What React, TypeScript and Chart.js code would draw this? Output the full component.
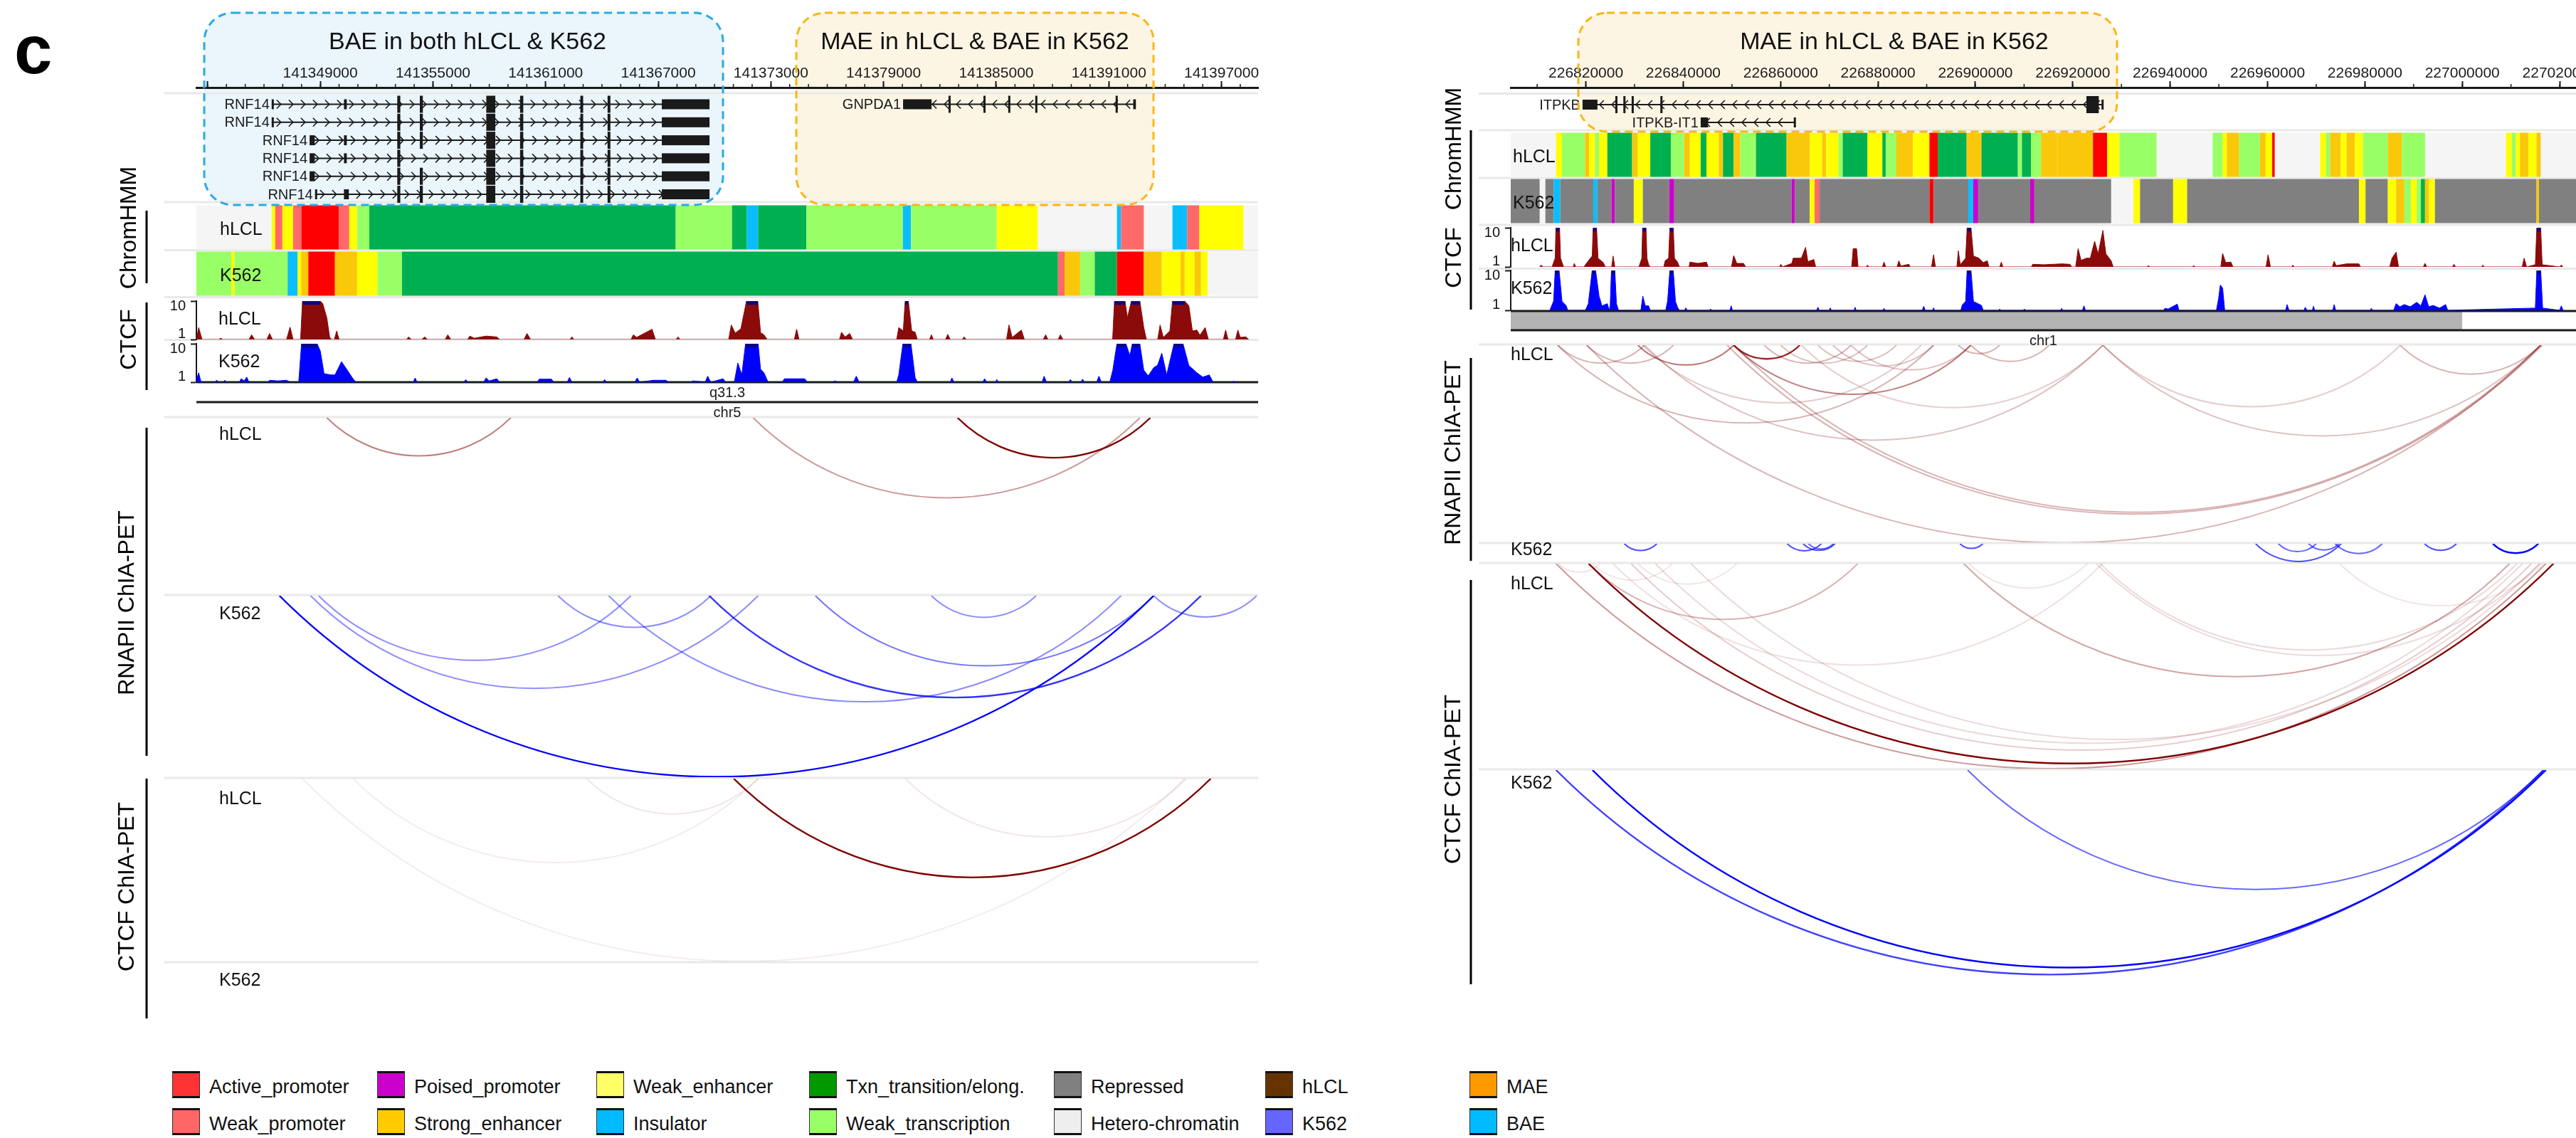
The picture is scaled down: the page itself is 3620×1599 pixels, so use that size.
import React, { useEffect, useRef } from 'react';
import { Chart, registerables } from 'chart.js';
Chart.register(...registerables);

const FONT = '"Liberation Sans", Arial, Helvetica, sans-serif';
const INK = '#1a1a1a';

// ================= DATA =================
const L_RANGE = [141342400, 141398950];
const R_RANGE = [226804570, 227023350];

const L_TICKS = [141343000, 141349000, 141355000, 141361000, 141367000, 141373000, 141379000, 141385000, 141391000, 141397000];
const L_TICK_LABELS = ['', '141349000', '141355000', '141361000', '141367000', '141373000', '141379000', '141385000', '141391000', '141397000'];
const L_MINOR_STEP = 1000;
const R_TICKS = [226820000, 226840000, 226860000, 226880000, 226900000, 226920000, 226940000, 226960000, 226980000, 227000000, 227020000];
const R_TICK_LABELS = ['226820000', '226840000', '226860000', '226880000', '226900000', '226920000', '226940000', '226960000', '226980000', '227000000', '227020000'];
const R_MINOR_STEP = 10000;

const CTCF_Y_TICKS = [1, 10];
const CTCF_Y_LABELS = ['1', '10'];

const HMM_ROWS = ['hLCL', 'K562'];

const STATE_COLORS: any = {
  AP: '#ff0000', WP: '#ff6969', PP: '#cc00cc', SE: '#fac80a', WE: '#ffff00',
  INS: '#0abefe', TXN: '#00b050', WT: '#99ff66', REP: '#808080', HET: '#f5f5f5',
};

const L_HMM_HLCL: any[] = [
  [141346410, 141346600, 'WE'], [141346600, 141346980, 'WP'], [141346980, 141347550, 'WE'], [141347550, 141347990, 'WP'],
  [141347990, 141349990, 'AP'], [141349990, 141350540, 'WP'], [141350540, 141350960, 'WE'], [141350960, 141351610, 'WT'],
  [141351610, 141367930, 'TXN'], [141367930, 141370930, 'WT'], [141370930, 141371720, 'TXN'], [141371720, 141372320, 'INS'],
  [141372320, 141374890, 'TXN'], [141374890, 141380030, 'WT'], [141380030, 141380460, 'INS'], [141380460, 141385030, 'WT'],
  [141385030, 141387210, 'WE'], [141391430, 141391650, 'INS'], [141391650, 141392860, 'WP'], [141394390, 141395170, 'INS'],
  [141395170, 141395820, 'WP'], [141395820, 141398170, 'WE'],
];
const L_HMM_K562: any[] = [
  [141342400, 141344260, 'WT'], [141344260, 141344430, 'WE'], [141344430, 141347260, 'WT'], [141347260, 141347790, 'INS'],
  [141347790, 141347980, 'WE'], [141347980, 141348360, 'SE'], [141348360, 141349780, 'AP'], [141349780, 141350960, 'SE'],
  [141350960, 141352050, 'WE'], [141352050, 141353350, 'WT'], [141353350, 141388290, 'TXN'], [141388290, 141388640, 'WP'],
  [141388640, 141389470, 'SE'], [141389470, 141390250, 'WT'], [141390250, 141391430, 'TXN'], [141391430, 141392860, 'AP'],
  [141392860, 141393820, 'SE'], [141393820, 141394820, 'WE'], [141394820, 141395040, 'SE'], [141395040, 141395560, 'WE'],
  [141395560, 141395910, 'SE'], [141395910, 141396260, 'WE'],
];
const R_HMM_HLCL: any[] = [
  [226813890, 226815080, 'WE'], [226815080, 226819830, 'WT'], [226819830, 226820680, 'SE'], [226820680, 226821870, 'WE'],
  [226821870, 226822710, 'WT'], [226822710, 226824410, 'WE'], [226824410, 226829500, 'TXN'], [226829500, 226830690, 'SE'],
  [226830690, 226833230, 'WE'], [226833230, 226837470, 'TXN'], [226837470, 226840190, 'WT'], [226840190, 226841370, 'SE'],
  [226841370, 226843580, 'WE'], [226843580, 226844770, 'TXN'], [226844770, 226847310, 'WE'], [226847310, 226848160, 'SE'],
  [226848160, 226850360, 'TXN'], [226850360, 226851720, 'SE'], [226851720, 226854940, 'WT'], [226854940, 226861220, 'TXN'],
  [226861220, 226865970, 'SE'], [226865970, 226868510, 'WE'], [226868510, 226869360, 'SE'], [226869360, 226871910, 'WE'],
  [226871910, 226872750, 'WT'], [226872750, 226877840, 'TXN'], [226877840, 226880900, 'WE'], [226880900, 226881580, 'TXN'],
  [226881580, 226883780, 'WT'], [226883780, 226887170, 'SE'], [226887170, 226890570, 'WE'], [226890570, 226892260, 'AP'],
  [226892260, 226898200, 'TXN'], [226898200, 226901250, 'SE'], [226901250, 226908720, 'TXN'], [226908720, 226909560, 'WT'],
  [226909560, 226911430, 'TXN'], [226911430, 226913470, 'WT'], [226913470, 226916860, 'SE'], [226916860, 226924150, 'SE'],
  [226924150, 226927040, 'AP'], [226927040, 226929580, 'WE'], [226929580, 226937210, 'WT'], [226948750, 226950780, 'WT'],
  [226950780, 226951630, 'WE'], [226951630, 226954180, 'SE'], [226954180, 226958420, 'WT'], [226958420, 226959610, 'SE'],
  [226959610, 226960960, 'WE'], [226960960, 226961470, 'AP'], [226970800, 226971990, 'WE'], [226971990, 226972840, 'WT'],
  [226972840, 226975040, 'SE'], [226975040, 226976230, 'WE'], [226976230, 226977930, 'SE'], [226977930, 226979620, 'WE'],
  [226979620, 226984710, 'WT'], [226984710, 226987590, 'SE'], [226987590, 226992340, 'WT'], [227008970, 227010160, 'WE'],
  [227010160, 227011000, 'WT'], [227011000, 227011850, 'WE'], [227011850, 227013550, 'SE'], [227013550, 227015240, 'WE'],
  [227015240, 227016090, 'SE'],
];
const R_HMM_K562: any[] = [
  [226804570, 226810500, 'REP'], [226811690, 226813380, 'REP'], [226813380, 226814740, 'INS'], [226814740, 226821530, 'REP'],
  [226821530, 226822370, 'INS'], [226822370, 226825260, 'REP'], [226825260, 226825940, 'PP'], [226825940, 226829840, 'REP'],
  [226829840, 226831700, 'WE'], [226831700, 226837130, 'REP'], [226837130, 226838150, 'PP'], [226838150, 226862240, 'REP'],
  [226862240, 226862920, 'PP'], [226862920, 226865970, 'REP'], [226865970, 226866990, 'WE'], [226866990, 226868010, 'WP'],
  [226868010, 226890570, 'REP'], [226890570, 226891410, 'AP'], [226891410, 226898540, 'REP'], [226898540, 226899560, 'INS'],
  [226899560, 226900570, 'PP'], [226900570, 226911260, 'REP'], [226911260, 226912110, 'PP'], [226912110, 226927880, 'REP'],
  [226932460, 226933820, 'WE'], [226933820, 226940610, 'REP'], [226940610, 226943490, 'WE'], [226943490, 226978770, 'REP'],
  [226978770, 226980130, 'WE'], [226980130, 226984710, 'REP'], [226984710, 226986410, 'WE'], [226986410, 226988100, 'SE'],
  [226988100, 226989460, 'WT'], [226989460, 226990650, 'WE'], [226990650, 226991500, 'WT'], [226991500, 226992340, 'TXN'],
  [226992340, 226993190, 'SE'], [226993190, 226994380, 'WE'], [226994380, 227015240, 'REP'], [227015240, 227015750, 'SE'],
  [227015750, 227023350, 'REP'],
];

// CTCF signal [position, value]
const L_CTCF_HLCL: number[][] = [
  [141342400, 1], [141342520, 3.8], [141342700, 1], [141343600, 1], [141343690, 1.3], [141343800, 1],
  [141345200, 1], [141345340, 2.1], [141345500, 1], [141346150, 1], [141346300, 2.4], [141346450, 1],
  [141347200, 1], [141347390, 3.9], [141347550, 1], [141347950, 1], [141348050, 10], [141349000, 10], [141349130, 9.4], [141349350, 6], [141349500, 1.5], [141349600, 1],
  [141349750, 1], [141349870, 3], [141350000, 1], [141353600, 1], [141353700, 1.6], [141353850, 1], [141354400, 1], [141354570, 1.6], [141354700, 1],
  [141355650, 1], [141355790, 2.1], [141355950, 1], [141356850, 1], [141356960, 1.8], [141357200, 1.3], [141357830, 1.8], [141358400, 1.6], [141358550, 1],
  [141359850, 1], [141360010, 2.4], [141360200, 1], [141362300, 1], [141362400, 1.6], [141362500, 1],
  [141365550, 1], [141365670, 2.1], [141365850, 1.5], [141366670, 3.4], [141366850, 1], [141367950, 1], [141368060, 1.6], [141368150, 1],
  [141370750, 1], [141370890, 4.4], [141371100, 2.5], [141371400, 3.5], [141371700, 10], [141372300, 10], [141372450, 2.6], [141372630, 2.1], [141372800, 1],
  [141374250, 1], [141374370, 3.4], [141374500, 1], [141376650, 1], [141376760, 2.7], [141376950, 1.6], [141377200, 2.4], [141377350, 1],
  [141379700, 1], [141379810, 3.8], [141380050, 3], [141380150, 10], [141380320, 10], [141380500, 3], [141380680, 2.7], [141380800, 1],
  [141381450, 1], [141381550, 2.1], [141381650, 1], [141382300, 1], [141382420, 2.2], [141382550, 1], [141383200, 1], [141383290, 1.6], [141383400, 1],
  [141385550, 1], [141385680, 4.4], [141385850, 1.5], [141386340, 3.2], [141386500, 1], [141387500, 1], [141387640, 2.1], [141387750, 1],
  [141388300, 1], [141388420, 2.1], [141388550, 1],
  [141391200, 1], [141391300, 10], [141391860, 10], [141391990, 6.1], [141392200, 10], [141392650, 10], [141392860, 3.8], [141393000, 1],
  [141393600, 1], [141393730, 4.4], [141393900, 1.5], [141394250, 3], [141394390, 10], [141395040, 10], [141395260, 8.9], [141395450, 3], [141395690, 3.2], [141395850, 2], [141396130, 3.8], [141396300, 1],
  [141397100, 1], [141397220, 3.2], [141397350, 1], [141397750, 1], [141397870, 3.2], [141398000, 1.5], [141398300, 1.6], [141398450, 1],
];
const L_CTCF_HLCL_CLIP = [[141348050, 141349000], [141371700, 141372300], [141380150, 141380320], [141391300, 141391860], [141392200, 141392650], [141394390, 141395040]];

const L_CTCF_K562: number[][] = [
  [141342400, 1.5], [141342520, 3.2], [141342650, 1], [141343400, 1], [141343470, 1.45], [141343600, 1], [141343850, 1], [141343910, 1.45], [141344000, 1],
  [141344700, 1], [141344780, 1.8], [141344950, 1.3], [141345080, 2.2], [141345200, 1], [141346200, 1], [141346300, 1.45], [141346740, 1.3], [141347200, 1.45], [141347400, 1],
  [141347850, 1], [141348000, 10], [141348830, 10], [141349000, 8.3], [141349200, 3], [141349560, 2.7], [141349780, 2.7], [141350130, 5.8], [141350440, 3.8], [141350740, 1.8], [141350900, 1],
  [141353950, 1], [141354050, 2], [141354150, 1], [141356650, 1], [141356750, 1.6], [141356850, 1],
  [141357700, 1], [141357830, 2], [141358000, 1.3], [141358400, 1.8], [141358550, 1], [141360550, 1], [141360660, 1.7], [141361310, 1.7], [141361450, 1],
  [141362150, 1], [141362270, 2.1], [141362400, 1], [141364050, 1], [141364140, 1.6], [141364250, 1],
  [141365750, 1], [141365880, 2], [141366000, 1], [141366750, 1.45], [141367410, 1.45], [141367550, 1],
  [141368750, 1], [141368840, 1.3], [141369500, 1], [141369630, 2.4], [141369800, 1], [141370450, 1.8], [141370600, 1],
  [141371050, 1], [141371240, 5.5], [141371450, 2.7], [141371650, 10], [141372320, 10], [141372450, 4], [141372630, 3.2], [141372850, 1],
  [141373600, 1], [141373720, 1.8], [141374370, 1.8], [141374800, 1.8], [141374950, 1],
  [141376300, 1], [141376410, 1.3], [141376550, 1], [141377400, 1], [141377550, 2.4], [141377700, 1],
  [141379700, 1], [141379810, 2.7], [141380030, 10], [141380460, 10], [141380680, 2.1], [141380800, 1],
  [141382550, 1], [141382640, 2], [141382750, 1], [141384280, 1], [141384380, 1.8], [141384500, 1], [141384950, 1], [141385030, 1.6], [141385120, 1],
  [141387450, 1], [141387550, 2.4], [141387680, 1],
  [141388850, 1], [141388950, 1.6], [141389050, 1], [141389500, 1], [141389600, 1.7], [141389700, 1], [141390350, 1], [141390470, 2.4], [141390600, 1],
  [141391050, 1], [141391210, 3.8], [141391430, 10], [141391910, 10], [141392120, 7.2], [141392250, 10], [141392650, 10], [141392860, 3.8], [141393100, 2.5], [141393390, 4.4], [141393600, 5], [141393820, 7.8], [141394080, 2.7], [141394470, 10], [141394950, 10], [141395260, 4.9], [141395690, 3.2], [141396000, 2.2], [141396350, 2.7], [141396550, 1],
  [141397550, 1], [141397650, 1.2], [141397750, 1],
];
const L_CTCF_K562_CLIP = [[141348000, 141348830], [141371650, 141372320], [141380030, 141380460], [141391430, 141391910], [141392250, 141392650], [141394470, 141394950]];

const R_CTCF_HLCL: number[][] = [
  [226810500, 1], [226810840, 1.4], [226811200, 1],
  [226813050, 1], [226813700, 3], [226813850, 10], [226814600, 10], [226814800, 3], [226815420, 1],
  [226817400, 1], [226817630, 1.8], [226817900, 1],
  [226819600, 1], [226820510, 2.4], [226821300, 3.5], [226821500, 10], [226822200, 10], [226822500, 3], [226823560, 2], [226824000, 1],
  [226825300, 1], [226825600, 3.5], [226825950, 1],
  [226830900, 1], [226831500, 3], [226831650, 10], [226832350, 10], [226832550, 3], [226832890, 1.5], [226833200, 1],
  [226836000, 1], [226836280, 2.4], [226837000, 3], [226837250, 10], [226837950, 10], [226838200, 3], [226838830, 2.1], [226839200, 1],
  [226841200, 1], [226841370, 2.1], [226843000, 1.8], [226844770, 2.1], [226845100, 1],
  [226849900, 1], [226850360, 3.6], [226851000, 1.8], [226852400, 1.8], [226852800, 1],
  [226859800, 1], [226860030, 1.6], [226860400, 1], [226862300, 1.8], [226862580, 3], [226864270, 3], [226865120, 5.5], [226865600, 2.2], [226866820, 2.7], [226867200, 1],
  [226874600, 1], [226874900, 5.2], [226875600, 5.2], [226875900, 1],
  [226877600, 1], [226877840, 1.4], [226878100, 1], [226880900, 1], [226881240, 2.1], [226881600, 1], [226883900, 1], [226884290, 2.4], [226884700, 1.2], [226886330, 1.6], [226886600, 1],
  [226891000, 1], [226891410, 3.8], [226891800, 1],
  [226896200, 1], [226896500, 4.7], [226896900, 1.5], [226898000, 3], [226898300, 10], [226899100, 10], [226899600, 3.5], [226900740, 3], [226901600, 2], [226902440, 2.4], [226902800, 1],
  [226905000, 1], [226905320, 2.1], [226905650, 1],
  [226911500, 1], [226911770, 1.6], [226914000, 1.5], [226917710, 1.7], [226919400, 1.6], [226919800, 1],
  [226920600, 1], [226921100, 5.2], [226921700, 2.5], [226922800, 3], [226923600, 3], [226924490, 6.9], [226925200, 4], [226926190, 9.4], [226926800, 4], [226927880, 2.4], [226928300, 1],
  [226935300, 1], [226935520, 1.3], [226935800, 1], [226944600, 1], [226944850, 1.3], [226945100, 1],
  [226950400, 1], [226950780, 4.1], [226951400, 2], [226952480, 2.1], [226952900, 1],
  [226959700, 1], [226960110, 3.8], [226960600, 1], [226965000, 1], [226965200, 1.4], [226965450, 1],
  [226973300, 1], [226973680, 2.3], [226974100, 1.3], [226976230, 1.7], [226978770, 1.7], [226979100, 1],
  [226985100, 1], [226985560, 3], [226986410, 4.4], [226986900, 1], [226992000, 1], [226992340, 1.8], [226992700, 1],
  [226998000, 1], [226998280, 1.6], [226998600, 1], [227004000, 1], [227004220, 1.4], [227004500, 1],
  [227012300, 1], [227012700, 3], [227013200, 1], [227015000, 1.5], [227015300, 10], [227016100, 10], [227016400, 1.5], [227020000, 1], [227020330, 1.4], [227020700, 1],
];
const R_CTCF_HLCL_CLIP = [[226813850, 226814600], [226821500, 226822200], [226831650, 226832350], [226837250, 226837950], [226898300, 226899100], [227015300, 227016100]];

const R_CTCF_K562: number[][] = [
  [226812600, 1], [226813380, 3.1], [226813700, 10], [226814500, 10], [226815100, 3], [226815930, 2.1], [226816300, 1],
  [226819900, 1], [226820510, 2.5], [226821300, 10], [226822000, 10], [226822710, 4.2], [226823300, 2], [226824410, 2.5], [226824800, 1],
  [226825000, 2], [226825250, 10], [226825950, 10], [226826280, 2.5], [226826700, 1],
  [226831300, 1], [226831700, 4.2], [226832200, 2], [226832890, 2], [226833200, 1],
  [226836400, 1], [226836790, 3.1], [226837250, 10], [226837950, 10], [226838400, 3], [226838830, 1.7], [226839200, 1],
  [226840300, 1], [226840530, 1.55], [226840800, 1], [226845400, 1], [226845610, 1.3], [226845800, 1], [226849600, 1], [226849850, 2], [226850100, 1],
  [226867400, 1], [226867670, 1.7], [226867900, 1], [226870000, 1], [226870210, 1.55], [226870400, 1], [226875100, 1], [226875300, 1.7], [226875500, 1], [226881000, 1], [226881240, 1.45], [226881400, 1],
  [226889100, 1], [226889380, 1.9], [226889700, 1], [226891200, 1], [226891410, 1.55], [226891600, 1],
  [226897000, 1], [226897350, 2.3], [226898000, 3], [226898300, 10], [226899100, 10], [226899600, 3], [226901250, 2.1], [226901600, 1],
  [226904800, 1], [226904980, 1.3], [226905200, 1], [226909900, 1], [226910070, 1.3], [226910300, 1], [226917500, 1], [226917710, 1.45], [226917900, 1], [226922000, 1], [226922290, 2], [226922600, 1],
  [226938700, 1], [226938910, 1.45], [226939600, 1.3], [226941460, 2.4], [226941800, 1],
  [226949500, 1], [226949940, 3.6], [226950300, 6.7], [226950780, 6], [226951200, 1],
  [226963700, 1], [226964020, 2.3], [226964400, 1], [226967500, 1], [226967750, 1.7], [226968100, 1], [226969200, 1], [226969440, 1.9], [226969700, 1],
  [226973400, 1], [226973680, 2.3], [226974000, 1], [226981100, 1], [226981320, 1.45], [226981600, 1],
  [226985900, 1], [226986410, 2.5], [226987200, 1.8], [226988100, 2.3], [226989300, 1.8], [226990650, 2.8], [226991500, 2], [226992340, 4.5], [226993100, 1.8], [226994040, 2.1], [226995300, 1.5], [226996580, 2.3], [226997000, 1],
  [227015000, 1.5], [227015300, 10], [227016100, 10], [227016500, 1.5], [227020000, 1], [227020330, 2], [227020700, 1],
];
const R_CTCF_K562_CLIP = [[226813700, 226814500], [226821300, 226822000], [226825250, 226825950], [226837250, 226837950], [226898300, 226899100], [227015300, 227016100]];

// Genes: exons [start, end, 'u' = UTR | 'c' = coding]
const L_GENES: any[] = [
  { name: 'RNF14', strand: '+', start: 141346410, end: 141369730, exons: [[141346410, 141346480, 'u'], [141350260, 141350410, 'u'], [141353100, 141353260, 'c'], [141354300, 141354460, 'c'], [141357840, 141358320, 'c'], [141359640, 141359810, 'c'], [141362850, 141363000, 'c'], [141364300, 141364450, 'c'], [141367190, 141369730, 'u']] },
  { name: 'RNF14', strand: '+', start: 141346410, end: 141369730, exons: [[141346410, 141346480, 'u'], [141353100, 141353260, 'c'], [141354300, 141354460, 'c'], [141357840, 141358320, 'c'], [141359640, 141359810, 'c'], [141362850, 141363000, 'c'], [141364300, 141364450, 'c'], [141367190, 141369730, 'u']] },
  { name: 'RNF14', strand: '+', start: 141348430, end: 141369730, exons: [[141348430, 141348700, 'u'], [141350260, 141350410, 'u'], [141353100, 141353260, 'c'], [141354300, 141354460, 'c'], [141357840, 141358320, 'c'], [141359640, 141359810, 'c'], [141362850, 141363000, 'c'], [141364300, 141364450, 'c'], [141367190, 141369730, 'u']] },
  { name: 'RNF14', strand: '+', start: 141348430, end: 141369730, exons: [[141348430, 141348700, 'u'], [141350260, 141350410, 'u'], [141353100, 141353260, 'c'], [141357840, 141358320, 'c'], [141359640, 141359810, 'c'], [141362850, 141363000, 'c'], [141364300, 141364450, 'c'], [141367190, 141369730, 'u']] },
  { name: 'RNF14', strand: '+', start: 141348430, end: 141369730, exons: [[141348430, 141348700, 'u'], [141353100, 141353260, 'c'], [141354300, 141354460, 'c'], [141357840, 141358320, 'c'], [141359640, 141359810, 'c'], [141362850, 141363000, 'c'], [141364300, 141364450, 'c'], [141367190, 141369730, 'u']] },
  { name: 'RNF14', strand: '+', start: 141348720, end: 141369730, exons: [[141348720, 141348790, 'u'], [141350260, 141350520, 'u'], [141353100, 141353260, 'c'], [141354300, 141354460, 'c'], [141357840, 141358320, 'c'], [141359640, 141359810, 'c'], [141362850, 141363000, 'c'], [141364300, 141364450, 'c'], [141367190, 141369730, 'u']] },
  { name: 'GNPDA1', strand: '-', start: 141380040, end: 141392440, exons: [[141380040, 141381560, 'u'], [141382460, 141382560, 'c'], [141384320, 141384420, 'c'], [141385640, 141385740, 'c'], [141387080, 141387180, 'c'], [141391360, 141391460, 'c'], [141392300, 141392440, 'u']] },
];
const R_GENES: any[] = [
  { name: 'ITPKB', strand: '-', start: 226819320, end: 226926190, exons: [[226819320, 226822380, 'u'], [226826050, 226826300, 'c'], [226827700, 226827950, 'c'], [226829400, 226829650, 'c'], [226835300, 226835550, 'c'], [226922800, 226925340, 'c'], [226925900, 226926190, 'u']] },
  { name: 'ITPKB-IT1', strand: '-', start: 226843580, end: 226862920, exons: [[226843580, 226845100, 'u'], [226862700, 226862920, 'u']] },
];

// cytobands
const L_BANDS = [{ name: 'q31.3', start: 139500000, end: 144500000, stain: 'gneg' }];
const R_BANDS = [{ name: 'q42.13', start: 226000000, end: 227000000, stain: 'gpos50' }, { name: 'q42.2', start: 227000000, end: 230700000, stain: 'gneg' }];

// ChIA-PET loops [anchor1, anchor2, strength]
const L_RNAPII_HLCL = [[141349350, 141359140, 0.5], [141372060, 141392650, 0.4], [141382940, 141393210, 1.0]];
const L_RNAPII_K562 = [[141346820, 141393390, 1.0], [141348480, 141372320, 0.45], [141348910, 141365540, 0.45], [141361660, 141369800, 0.45], [141364360, 141391650, 0.45], [141369710, 141395910, 0.8], [141375370, 141393390, 0.55], [141381550, 141387120, 0.45], [141393390, 141398870, 0.45]];
const L_CTCFPET_HLCL = [[141348040, 141395040, 0.08], [141350740, 141372320, 0.08], [141363190, 141372320, 0.1], [141371020, 141396430, 1.0], [141380160, 141395130, 0.1]];
const L_CTCFPET_K562: number[][] = [];
const R_RNAPII_HLCL = [
  [226850360, 227016090, 0.3], [226849010, 227016430, 0.3], [226820170, 227016090, 0.3], [226926190, 227016090, 0.25], [226926190, 226987260, 0.2],
  [226864270, 226926190, 0.2], [226831700, 226888870, 0.2], [226814230, 226832040, 0.3], [226820170, 226837980, 0.3], [226830690, 226850360, 0.55],
  [226850360, 226863930, 0.85], [226856640, 226874450, 0.3], [226860030, 226877840, 0.25], [226867670, 226883780, 0.25], [226870720, 226891410, 0.25],
  [226874450, 226899050, 0.25], [226896500, 226904980, 0.3], [226899050, 226915160, 0.3], [226987260, 227016090, 0.3], [226814230, 226891410, 0.3],
  [226832040, 226926190, 0.25], [226850360, 226899050, 0.5],
];
const R_RNAPII_K562 = [
  [226827890, 226834580, 0.7], [226861360, 226868360, 0.7], [226864620, 226871160, 0.7], [226865710, 226870850, 0.6], [226896840, 226901510, 0.7],
  [226957550, 226975140, 0.7], [226962220, 226970000, 0.6], [226968440, 226974670, 0.6], [226973890, 226983540, 0.6], [226992260, 226998790, 0.7],
  [227006270, 227015610, 1.0],
];
const R_CTCFPET_HLCL = [
  [226820580, 227018720, 1.0], [226813880, 227017160, 0.4], [226834270, 227012340, 0.15], [226829290, 227014200, 0.2], [226820580, 226875830, 0.3],
  [226897620, 227009690, 0.35], [226924860, 227015920, 0.15], [226825560, 226926110, 0.12], [226898710, 226922990, 0.1], [226974820, 227016540, 0.1],
  [226814350, 226822910, 0.1], [226821350, 226837700, 0.1], [226830690, 226850930, 0.1], [226841590, 227015920, 0.15], [226925640, 227011250, 0.15],
];
const R_CTCFPET_K562 = [[226813880, 227016690, 0.75], [226821350, 227017160, 1.0], [226898400, 227016690, 0.6]];

const LEGEND_LABELS = ['Active_promoter', 'Weak_promoter', 'Poised_promoter', 'Strong_enhancer', 'Weak_enhancer', 'Insulator', 'Txn_transition/elong.', 'Weak_transcription', 'Repressed', 'Hetero-chromatin', 'hLCL', 'K562', 'MAE', 'BAE'];
const LEGEND_COLORS = ['#ff3333', '#ff6666', '#cc00cc', '#ffcc00', '#ffff66', '#00bbff', '#009900', '#99ff66', '#808080', '#eeeeee', '#663300', '#6666ff', '#ff9900', '#00bbff'];

// ================= STYLE / LAYOUT =================
const STAIN: any = { gneg: '#ffffff', gpos50: '#b3b3b3' };
const HLCL_SIGNAL = '#8b0a0a';
const K562_SIGNAL = '#0000ff';
const CAP_COLOR = '#0a0a80';
const CAP_LEVEL = 9.55;

const LEFT: any = {
  canvasL: 0, canvasW: 1800, areaL: 276, areaR: 1768, range: L_RANGE,
  ticks: L_TICKS, tickLabels: L_TICK_LABELS, minorStep: L_MINOR_STEP,
  separators: [131, 284, 351.5, 417.5, 477.5, 586, 836, 1093, 1352], sepL: 231,
  genes: L_GENES, geneRowTop: 146.5, geneRowH: 25.3,
  bands: L_BANDS, bandTop: 537, bandBottom: 565, chrName: 'chr5', chrLabelY: 580,
  labelX: 308,
  arcTracks: [
    { top: 587, bottom: 835, label: 'hLCL', labelY: 611, arcs: L_RNAPII_HLCL, rgb: '128,0,0' },
    { top: 837, bottom: 1092, label: 'K562', labelY: 863, arcs: L_RNAPII_K562, rgb: '0,0,255' },
    { top: 1094, bottom: 1351, label: 'hLCL', labelY: 1123, arcs: L_CTCFPET_HLCL, rgb: '128,0,0' },
    { top: 1353, bottom: 1440, label: 'K562', labelY: 1378, arcs: L_CTCFPET_K562, rgb: '0,0,255' },
  ],
  vlabels: [
    { text: 'ChromHMM', x: 182, y: 320, lx: 206, y1: 296, y2: 398 },
    { text: 'CTCF', x: 182, y: 477, lx: 206, y1: 425, y2: 548 },
    { text: 'RNAPII ChIA-PET', x: 179, y: 847, lx: 206, y1: 601, y2: 1062 },
    { text: 'CTCF ChIA-PET', x: 179, y: 1246, lx: 206, y1: 1094, y2: 1431 },
  ],
  hmm: { top: 287, h: L_HMM_HLCL, k: L_HMM_K562, labelX: 309 },
  ctcf: [
    { top: 423, bottom: 477, points: L_CTCF_HLCL, clip: L_CTCF_HLCL_CLIP, color: HLCL_SIGNAL, label: 'hLCL', labelX: 307 },
    { top: 483, bottom: 537, points: L_CTCF_K562, clip: L_CTCF_K562_CLIP, color: K562_SIGNAL, label: 'K562', labelX: 307 },
  ],
};
const RIGHT: any = {
  canvasL: 1950, canvasW: 1670, areaL: 2123, areaR: 3620, range: R_RANGE,
  ticks: R_TICKS, tickLabels: R_TICK_LABELS, minorStep: R_MINOR_STEP,
  separators: [131.5, 183, 250, 316, 377.5, 484, 763, 791, 1081], sepL: 2078,
  genes: R_GENES, geneRowTop: 147, geneRowH: 25,
  bands: R_BANDS, bandTop: 437, bandBottom: 464, chrName: 'chr1', chrLabelY: 479,
  labelX: 2123,
  arcTracks: [
    { top: 485, bottom: 762, label: 'hLCL', labelY: 499, arcs: R_RNAPII_HLCL, rgb: '128,0,0' },
    { top: 764, bottom: 790, label: 'K562', labelY: 773, arcs: R_RNAPII_K562, rgb: '0,0,255' },
    { top: 792, bottom: 1080, label: 'hLCL', labelY: 821, arcs: R_CTCFPET_HLCL, rgb: '128,0,0' },
    { top: 1082, bottom: 1400, label: 'K562', labelY: 1101, arcs: R_CTCFPET_K562, rgb: '0,0,255' },
  ],
  vlabels: [
    { text: 'ChromHMM', x: 2044, y: 209, lx: 2067, y1: 183, y2: 313 },
    { text: 'CTCF', x: 2044, y: 362, lx: 2067, y1: 313, y2: 435 },
    { text: 'RNAPII ChIA-PET', x: 2043, y: 636, lx: 2067, y1: 503, y2: 788 },
    { text: 'CTCF ChIA-PET', x: 2043, y: 1095, lx: 2067, y1: 815, y2: 1383 },
  ],
  hmm: { top: 185, h: R_HMM_HLCL, k: R_HMM_K562, labelX: 2126 },
  ctcf: [
    { top: 320, bottom: 375, points: R_CTCF_HLCL, clip: R_CTCF_HLCL_CLIP, color: HLCL_SIGNAL, label: 'hLCL', labelX: 2123 },
    { top: 380, bottom: 436, points: R_CTCF_K562, clip: R_CTCF_K562_CLIP, color: K562_SIGNAL, label: 'K562', labelX: 2123 },
  ],
};

const MAIN_H = 1470;
const RULER_Y = 123;

// ================= DRAWING HELPERS =================
function drawGenes(ctx: any, xs: any, P: any) {
  const ends: number[] = [];
  ctx.font = `20px ${FONT}`;
  for (const g of P.genes) {
    const x1 = xs.getPixelForValue(g.start), x2 = xs.getPixelForValue(g.end);
    const lw = ctx.measureText(g.name).width + 8;
    let r = 0;
    while (ends[r] !== undefined && ends[r] > x1 - lw) r++;
    ends[r] = x2 + 6;
    const y = P.geneRowTop + r * P.geneRowH;
    ctx.strokeStyle = INK; ctx.fillStyle = INK;
    ctx.lineWidth = 2;
    ctx.beginPath(); ctx.moveTo(x1, y); ctx.lineTo(x2, y); ctx.stroke();
    const dir = g.strand === '+' ? 1 : -1;
    ctx.lineWidth = 1.6;
    ctx.beginPath();
    for (let x = x1 + 10; x < x2 - 4; x += 17) {
      ctx.moveTo(x - 3 * dir, y - 6); ctx.lineTo(x + 3 * dir, y); ctx.lineTo(x - 3 * dir, y + 6);
    }
    ctx.stroke();
    for (const [s, e, t] of g.exons) {
      const a = xs.getPixelForValue(s), b = xs.getPixelForValue(e);
      const h = t === 'u' ? 14 : 24;
      ctx.fillRect(a, y - h / 2, Math.max(3, b - a), h);
    }
    ctx.textAlign = 'right'; ctx.textBaseline = 'middle';
    ctx.fillText(g.name, x1 - 3, y + 1);
  }
}

function mainPlugin(P: any) {
  return {
    id: 'tracks',
    afterDraw(chart: any) {
      const ctx = chart.ctx, xs = chart.scales.x, A = chart.chartArea, ox = P.canvasL;
      ctx.save();
      ctx.lineWidth = 3; ctx.strokeStyle = '#e9e9e9';
      for (const y of P.separators) { ctx.beginPath(); ctx.moveTo(P.sepL - ox, y); ctx.lineTo(A.right, y); ctx.stroke(); }
      ctx.strokeStyle = INK; ctx.lineWidth = 1.5;
      const first = Math.ceil(xs.min / P.minorStep) * P.minorStep;
      for (let v = first; v <= xs.max; v += P.minorStep) {
        const x = xs.getPixelForValue(v);
        ctx.beginPath(); ctx.moveTo(x, A.top); ctx.lineTo(x, A.top - 5); ctx.stroke();
      }
      drawGenes(ctx, xs, P);
      const bt = P.bandTop, bb = P.bandBottom;
      for (const b of P.bands) {
        const a = Math.max(A.left, xs.getPixelForValue(b.start));
        const e = Math.min(A.right, xs.getPixelForValue(b.end));
        if (e <= a) continue;
        ctx.fillStyle = STAIN[b.stain];
        ctx.fillRect(a, bt, e - a, bb - bt);
        if (b.start <= xs.min && b.end >= xs.max) {
          ctx.fillStyle = INK; ctx.font = `20px ${FONT}`; ctx.textAlign = 'center'; ctx.textBaseline = 'middle';
          ctx.fillText(b.name, (a + e) / 2, (bt + bb) / 2 + 1);
        }
      }
      ctx.fillStyle = INK;
      ctx.fillRect(A.left, bt - 1.5, A.right - A.left, 3);
      ctx.fillRect(A.left, bb - 1.5, A.right - A.left, 3);
      ctx.font = `20px ${FONT}`; ctx.textAlign = 'center'; ctx.textBaseline = 'middle';
      ctx.fillText(P.chrName, (A.left + A.right) / 2, P.chrLabelY);
      for (const t of P.arcTracks) {
        ctx.save();
        ctx.beginPath(); ctx.rect(A.left, t.top, A.right - A.left, t.bottom - t.top); ctx.clip();
        for (const [s, e, w] of t.arcs) {
          const a = xs.getPixelForValue(s), b = xs.getPixelForValue(e);
          const half = (b - a) / 2, mid = (a + b) / 2;
          ctx.beginPath();
          ctx.arc(mid, t.top - half, half * Math.SQRT2, Math.PI / 4, (3 * Math.PI) / 4);
          ctx.strokeStyle = `rgba(${t.rgb},${w})`;
          ctx.lineWidth = w > 0.7 ? 2.4 : 2;
          ctx.stroke();
        }
        ctx.restore();
        ctx.fillStyle = '#111'; ctx.font = `25px ${FONT}`; ctx.textAlign = 'left'; ctx.textBaseline = 'middle';
        ctx.fillText(t.label, P.labelX - ox, t.labelY);
      }
      ctx.fillStyle = '#000'; ctx.font = `32px ${FONT}`; ctx.textAlign = 'center'; ctx.textBaseline = 'middle';
      for (const v of P.vlabels) {
        ctx.save(); ctx.translate(v.x - ox, v.y); ctx.rotate(-Math.PI / 2); ctx.fillText(v.text, 0, 0); ctx.restore();
        ctx.fillRect(v.lx - ox - 1.5, v.y1, 3, v.y2 - v.y1);
      }
      ctx.restore();
    },
  };
}

function mainConfig(P: any) {
  return {
    type: 'scatter',
    data: { datasets: [] },
    options: {
      animation: false, responsive: false, events: [],
      layout: { padding: { left: P.areaL - P.canvasL, right: P.canvasL + P.canvasW - P.areaR, top: RULER_Y - 60, bottom: 0 } },
      plugins: { legend: { display: false }, tooltip: { enabled: false }, title: { display: false } },
      scales: {
        x: {
          type: 'linear', position: 'top', min: P.range[0], max: P.range[1],
          afterBuildTicks: (s: any) => { s.ticks = P.ticks.map((v: number) => ({ value: v })); },
          afterFit: (s: any) => { s.height = 60; s.paddingLeft = 0; s.paddingRight = 0; },
          ticks: { autoSkip: false, maxRotation: 0, minRotation: 0, padding: -2, color: INK, font: { family: FONT, size: 21 },
            callback: (_v: any, i: number) => P.tickLabels[i] },
          grid: { display: true, drawOnChartArea: false, drawTicks: true, tickLength: 9, tickWidth: 2, tickColor: INK, color: INK },
          border: { display: true, color: INK, width: 3 },
        },
        y: { display: false, min: 0, max: 1 },
      },
    },
    plugins: [mainPlugin(P)],
  };
}

function hmmConfig(P: any) {
  const S = P.hmm;
  const ds = (segs: any[], row: string) => ({
    data: segs.map((s) => ({ x: [s[0], s[1]], y: row })),
    backgroundColor: segs.map((s) => STATE_COLORS[s[2]]),
    borderWidth: 0, grouped: false, categoryPercentage: 1, barPercentage: 0.955,
  });
  return {
    type: 'bar',
    data: { labels: HMM_ROWS, datasets: [ds(S.h, 'hLCL'), ds(S.k, 'K562')] },
    options: {
      indexAxis: 'y', animation: false, responsive: false, events: [],
      layout: { padding: { left: P.areaL - P.canvasL, right: P.canvasL + P.canvasW - P.areaR, top: 0, bottom: 0 } },
      plugins: { legend: { display: false }, tooltip: { enabled: false } },
      scales: {
        x: { type: 'linear', display: false, min: P.range[0], max: P.range[1] },
        y: { type: 'category', display: false },
      },
    },
    plugins: [{
      id: 'hmmrows',
      beforeDatasetsDraw(chart: any) {
        const ctx = chart.ctx, A = chart.chartArea, ys = chart.scales.y;
        const band = (A.bottom - A.top) / HMM_ROWS.length * 0.955;
        ctx.save(); ctx.fillStyle = STATE_COLORS.HET;
        HMM_ROWS.forEach((_r, i) => { const c = ys.getPixelForValue(i); ctx.fillRect(A.left, c - band / 2, A.right - A.left, band); });
        ctx.restore();
      },
      afterDatasetsDraw(chart: any) {
        const ctx = chart.ctx, ys = chart.scales.y;
        ctx.save(); ctx.fillStyle = '#111'; ctx.font = `25px ${FONT}`; ctx.textAlign = 'left'; ctx.textBaseline = 'middle';
        HMM_ROWS.forEach((r, i) => ctx.fillText(r, S.labelX - P.canvasL, ys.getPixelForValue(i) + 4));
        ctx.restore();
      },
    }],
  };
}

function ctcfConfig(P: any, T: any) {
  const caps: any[] = [];
  T.clip.forEach(([a, b]: number[]) => { caps.push({ x: a, y: CAP_LEVEL }, { x: b, y: CAP_LEVEL }, { x: b, y: null }); });
  const yW = 40, TL = 8;
  return {
    type: 'line',
    data: {
      datasets: [
        { data: caps, order: 0, borderColor: CAP_COLOR, borderWidth: 5, pointRadius: 0, fill: false, spanGaps: false, borderCapStyle: 'butt' },
        { data: T.points.map(([x, y]: number[]) => ({ x, y })), order: 1, borderColor: T.color, backgroundColor: T.color, borderWidth: 1, pointRadius: 0, fill: 'start', tension: 0 },
      ],
    },
    options: {
      animation: false, responsive: false, events: [],
      layout: { padding: { left: P.areaL - P.canvasL - yW, right: P.canvasL + P.canvasW - P.areaR, top: 12, bottom: 12 } },
      plugins: { legend: { display: false }, tooltip: { enabled: false } },
      scales: {
        x: { type: 'linear', display: false, min: P.range[0], max: P.range[1] },
        y: {
          type: 'linear', position: 'left', min: 1, max: 10,
          afterBuildTicks: (s: any) => { s.ticks = CTCF_Y_TICKS.map((v) => ({ value: v })); },
          afterFit: (s: any) => { s.width = yW; s.paddingTop = 0; s.paddingBottom = 0; },
          ticks: { display: false },
          grid: { drawOnChartArea: false, drawTicks: true, tickLength: TL, tickWidth: 2, tickColor: INK },
          border: { display: true, color: INK, width: 2 },
        },
      },
    },
    plugins: [{
      id: 'ctcflabel',
      afterDraw(chart: any) {
        const ctx = chart.ctx, A = chart.chartArea, ys = chart.scales.y;
        ctx.save(); ctx.fillStyle = '#111';
        // axis labels, inset inside the bracket
        ctx.font = `20px ${FONT}`; ctx.textAlign = 'right'; ctx.textBaseline = 'middle';
        CTCF_Y_TICKS.forEach((v, i) => {
          const y = ys.getPixelForValue(v) + (v === ys.max ? 7 : -8);
          ctx.fillText(CTCF_Y_LABELS[i], A.left - TL - 7, y);
        });
        ctx.font = `25px ${FONT}`; ctx.textAlign = 'left';
        ctx.fillText(T.label, T.labelX - P.canvasL, A.top + 26);
        ctx.restore();
      },
    }],
  };
}

// ================= COMPONENTS =================
function ChartCanvas({ make, left, top, width, height }: any) {
  const ref = useRef<HTMLCanvasElement>(null);
  useEffect(() => {
    const chart = new Chart(ref.current as any, make());
    return () => chart.destroy();
  }, []);
  return <canvas ref={ref} width={width} height={height} style={{ position: 'absolute', left, top, width, height, zIndex: 1 }} />;
}

function Panel({ P }: any) {
  return (
    <>
      <ChartCanvas make={() => mainConfig(P)} left={P.canvasL} top={0} width={P.canvasW} height={MAIN_H} />
      <ChartCanvas make={() => hmmConfig(P)} left={P.canvasL} top={P.hmm.top} width={P.canvasW} height={130} />
      {P.ctcf.map((T: any, i: number) => (
        <ChartCanvas key={i} make={() => ctcfConfig(P, T)} left={P.canvasL} top={T.top - 12} width={P.canvasW} height={T.bottom - T.top + 24} />
      ))}
    </>
  );
}

const BOXES = [
  { left: 287, top: 18, w: 729, h: 270, fill: '#eaf5fc', stroke: '#29aae3', title: 'BAE in both hLCL & K562', tx: 657 },
  { left: 1119, top: 18, w: 502, h: 270, fill: '#fdf5e4', stroke: '#fbb515', title: 'MAE in hLCL & BAE in K562', tx: 1370 },
  { left: 2218, top: 18, w: 757, h: 167, fill: '#fdf5e4', stroke: '#fbb515', title: 'MAE in hLCL & BAE in K562', tx: 2662 },
];
const LEGEND_X = [242, 530, 838, 1137, 1481, 1778, 2065];
const LEGEND_ROW_Y = [1505, 1557];

export default function App() {
  return (
    <div style={{ position: 'fixed', left: 0, top: 0, width: 3620, height: 1599, overflow: 'hidden', background: '#fff', fontFamily: FONT }}>
      {BOXES.map((b, i) => (
        <div key={'f' + i} style={{ position: 'absolute', left: b.left, top: b.top, width: b.w, height: b.h, background: b.fill, borderRadius: 40, zIndex: 0 }} />
      ))}
      <Panel P={LEFT} />
      <Panel P={RIGHT} />
      <svg width={3620} height={1599} style={{ position: 'absolute', left: 0, top: 0, zIndex: 2, pointerEvents: 'none' }}>
        {BOXES.map((b, i) => (
          <rect key={i} x={b.left} y={b.top} width={b.w} height={b.h} rx={40} ry={40} fill="none" stroke={b.stroke} strokeWidth={3} strokeDasharray="11 7" />
        ))}
      </svg>
      {BOXES.map((b, i) => (
        <div key={'t' + i} style={{ position: 'absolute', left: b.tx, top: 40, transform: 'translateX(-50%)', fontSize: 34, lineHeight: '34px', whiteSpace: 'nowrap', color: '#111', zIndex: 3 }}>{b.title}</div>
      ))}
      <div style={{ position: 'absolute', left: 20, top: 22, fontSize: 96, lineHeight: '96px', fontWeight: 'bold', color: '#000', zIndex: 3 }}>c</div>
      {LEGEND_LABELS.map((lab, i) => {
        const col = Math.floor(i / 2), row = i % 2;
        return (
          <React.Fragment key={'l' + i}>
            <div style={{ position: 'absolute', left: LEGEND_X[col], top: LEGEND_ROW_Y[row], width: 39, height: 38, background: LEGEND_COLORS[i], boxSizing: 'border-box', border: '1px solid #333', borderTop: '3px solid #111', borderBottom: '3px solid #111' }} />
            <div style={{ position: 'absolute', left: LEGEND_X[col] + 52, top: LEGEND_ROW_Y[row] + 9, fontSize: 27, lineHeight: '27px', whiteSpace: 'nowrap', color: '#111' }}>{lab}</div>
          </React.Fragment>
        );
      })}
    </div>
  );
}
